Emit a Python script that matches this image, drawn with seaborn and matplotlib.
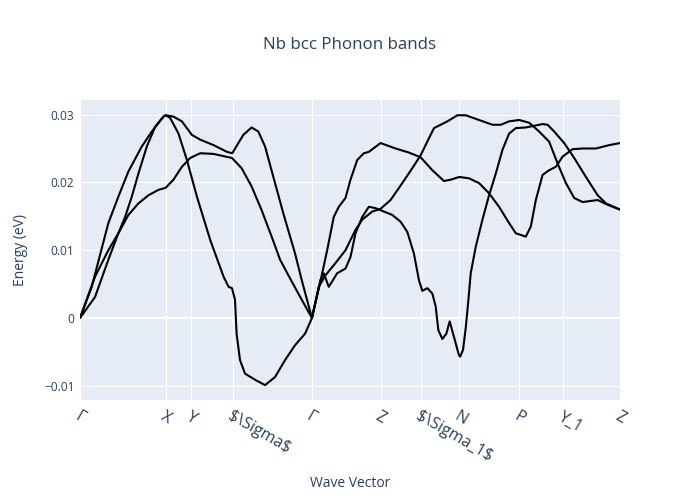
import matplotlib
matplotlib.use("Agg")
import matplotlib.pyplot as plt
import seaborn as sns
import pandas as pd

# High-symmetry points (k-path distance) and labels
tick_pos = [0.0, 0.855, 1.11, 1.525, 2.315, 3.00, 3.40, 3.785, 4.385, 4.82, 5.39]
tick_labels = ["Γ", "X", "Y", r"\$\Sigma\$", "Γ", "Z", r"\$\Sigma_1\$", "N", "P", "Y_1", "Z"]

# Band 1
k1 = [0, 0.15, 0.283, 0.383, 0.483, 0.583, 0.683, 0.783, 0.855, 0.933, 1.017, 1.10, 1.20, 1.333,
      1.517, 1.613, 1.713, 1.813, 1.913, 1.997, 2.113, 2.213, 2.315,
      2.40, 2.433, 2.483, 2.517, 2.567, 2.65, 2.70, 2.75, 2.817, 2.883, 2.95, 3.00,
      3.117, 3.20, 3.267, 3.333, 3.383, 3.417, 3.467, 3.517, 3.55, 3.577, 3.617, 3.657, 3.69,
      3.733, 3.783, 3.795, 3.823, 3.85, 3.877, 3.90, 3.95, 4.017, 4.083, 4.15, 4.217, 4.283,
      4.35, 4.45, 4.617, 4.667, 4.733, 4.833, 4.933, 5.05, 5.167, 5.25, 5.39]
e1 = [0, 0.0061, 0.0100, 0.0125, 0.0152, 0.0169, 0.0181, 0.0189, 0.0192, 0.0204, 0.0223, 0.0236,
      0.0243, 0.0242, 0.0236, 0.0221, 0.0194, 0.0159, 0.0120, 0.0086, 0.0054, 0.0027, 0.0,
      0.0056, 0.0066, 0.0046, 0.0054, 0.0066, 0.0073, 0.0090, 0.0125, 0.0149, 0.0164, 0.0162, 0.0159,
      0.0152, 0.0142, 0.0127, 0.0095, 0.0056, 0.0040, 0.0044, 0.0036, 0.0017, -0.0018, -0.0031,
      -0.0023, -0.0005, -0.0028, -0.0055, -0.0057, -0.0047, -0.0015, 0.0027, 0.0066, 0.0105,
      0.0145, 0.0181, 0.0213, 0.0248, 0.0272, 0.0280, 0.0281, 0.0286, 0.0285, 0.0275, 0.0258,
      0.0236, 0.0208, 0.0181, 0.0169, 0.0160]

# Band 2
k2 = [0, 0.15, 0.283, 0.383, 0.45, 0.517, 0.583, 0.667, 0.75, 0.833, 0.855, 0.90, 0.983, 1.067,
      1.167, 1.30, 1.433, 1.483, 1.517, 1.547, 1.563, 1.597, 1.647, 1.747, 1.847, 1.947, 2.047,
      2.147, 2.247, 2.315,
      2.383, 2.45, 2.55, 2.65, 2.75, 2.817, 2.917, 3.00, 3.10, 3.217, 3.317, 3.40, 3.483, 3.533,
      3.60, 3.667, 3.767, 3.85, 3.983, 4.117, 4.20, 4.283, 4.385, 4.483, 4.583, 4.683, 4.767,
      4.85, 4.933, 5.017, 5.167, 5.267, 5.35, 5.39]
e2 = [0, 0.0031, 0.0086, 0.0125, 0.0149, 0.0179, 0.0213, 0.0253, 0.0282, 0.0297, 0.0299, 0.0295,
      0.0272, 0.0233, 0.0179, 0.0115, 0.0061, 0.0046, 0.0044, 0.0027, -0.0023, -0.0062, -0.0082,
      -0.0091, -0.0099, -0.0087, -0.0062, -0.0040, -0.0023, 0.0,
      0.0046, 0.0063, 0.0081, 0.0100, 0.0130, 0.0145, 0.0157, 0.0161, 0.0174, 0.0199, 0.0221,
      0.0240, 0.0265, 0.0280, 0.0285, 0.0290, 0.0299, 0.0299, 0.0292, 0.0285, 0.0285, 0.0290,
      0.0292, 0.0288, 0.0275, 0.0260, 0.0228, 0.0199, 0.0177, 0.0171, 0.0174, 0.0167, 0.0162,
      0.0160]

# Band 3
k3 = [0, 0.117, 0.283, 0.383, 0.483, 0.617, 0.717, 0.833, 0.855, 0.933, 1.017, 1.117, 1.20,
      1.333, 1.467, 1.52, 1.63, 1.713, 1.78, 1.847, 1.93, 2.03, 2.147, 2.213, 2.315,
      2.40, 2.467, 2.533, 2.583, 2.65, 2.70, 2.767, 2.833, 2.883, 3.00,
      3.15, 3.283, 3.40, 3.517, 3.633, 3.70, 3.785, 3.883, 3.983, 4.083, 4.183, 4.283, 4.35,
      4.45, 4.50, 4.55, 4.617, 4.683, 4.75, 4.817, 4.917, 5.017, 5.15, 5.283, 5.39]
e3 = [0, 0.0046, 0.0140, 0.0179, 0.0216, 0.0253, 0.0275, 0.0297, 0.0299, 0.0297, 0.0290, 0.0270,
      0.0263, 0.0255, 0.0245, 0.0243, 0.0270, 0.0281, 0.0275, 0.0253, 0.0208, 0.0154, 0.0095,
      0.0056, 0.0,
      0.0054, 0.0100, 0.0149, 0.0164, 0.0177, 0.0204, 0.0233, 0.0243, 0.0245, 0.0258,
      0.0250, 0.0244, 0.0237, 0.0218, 0.0202, 0.0204, 0.0208, 0.0206, 0.0199, 0.0184, 0.0164,
      0.0140, 0.0125, 0.0120, 0.0135, 0.0174, 0.0211, 0.0218, 0.0223, 0.0238, 0.0249, 0.0250,
      0.0250, 0.0255, 0.0258]

yticks = [-0.01, 0, 0.01, 0.02, 0.03]
ytick_labels = ["−0.01", "0", "0.01", "0.02", "0.03"]

df = pd.concat([
    pd.DataFrame({"k": k1, "E": e1, "band": 1}),
    pd.DataFrame({"k": k2, "E": e2, "band": 2}),
    pd.DataFrame({"k": k3, "E": e3, "band": 3}),
], ignore_index=True)

sns.set_theme(style="darkgrid")
plt.rcParams["font.family"] = ["Open Sans", "DejaVu Sans"]

txt = "#2a3f5f"
fig = plt.figure(figsize=(7, 5), dpi=100)
fig.patch.set_facecolor("white")
ax = fig.add_axes([80 / 700, 0.2, 540 / 700, 0.6])
ax.set_facecolor("#E5ECF6")

sns.lineplot(data=df, x="k", y="E", units="band", estimator=None, sort=False,
             color="black", linewidth=1.5, ax=ax, legend=False)

ax.set_xlim(0, 5.39)
ax.set_ylim(-0.01209, 0.03215)
ax.set_xticks(tick_pos)
ax.set_xticklabels(tick_labels, rotation=-30, ha="left", va="top",
                   rotation_mode="anchor", fontsize=11.5, color=txt)
ax.set_yticks(yticks)
ax.set_yticklabels(ytick_labels, fontsize=8.6, color=txt)
ax.tick_params(axis="both", length=0)
ax.tick_params(axis="x", pad=6)
ax.tick_params(axis="y", pad=4)
ax.grid(True, color="white", linewidth=0.75)
ax.axhline(0, color="white", linewidth=1.6, zorder=1)
for s in ax.spines.values():
    s.set_visible(False)
ax.set_axisbelow(True)

ax.set_xlabel("Wave Vector", fontsize=10, color=txt)
ax.xaxis.set_label_coords(0.5, -0.277)
ax.xaxis.label.set_va("center")
ax.set_ylabel("Energy (eV)", fontsize=10, color=txt)
ax.yaxis.set_label_coords(-0.111, 0.5)
ax.yaxis.label.set_va("center")

fig.text(0.5, 1 - 45 / 500, "Nb bcc Phonon bands", ha="center", va="center",
         fontsize=12.2, color=txt)

fig.savefig("out.png", dpi=100)
